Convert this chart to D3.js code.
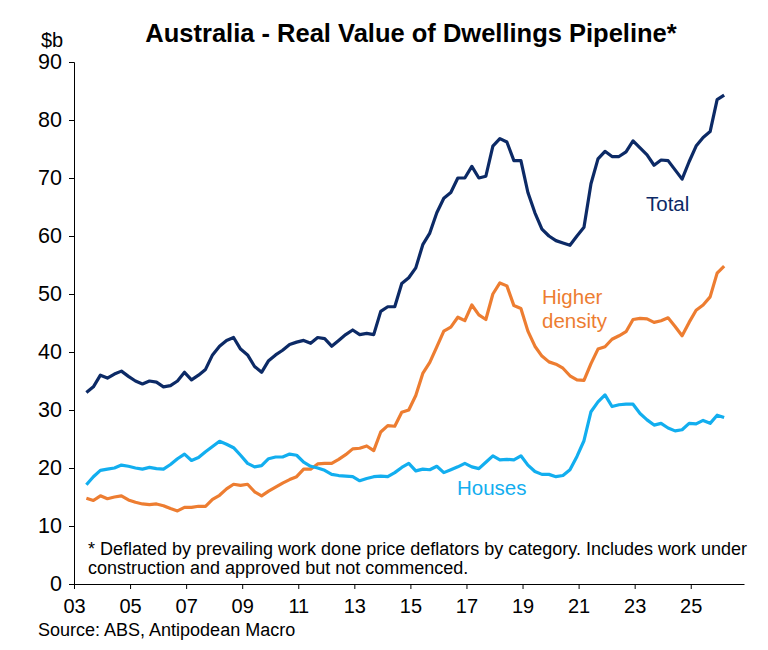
<!DOCTYPE html>
<html>
<head>
<meta charset="utf-8">
<script src="https://cdn.jsdelivr.net/npm/d3@7"></script>
<style>
  body { margin: 0; background: #fff; }
  svg { display: block; }
  text { font-family: "Liberation Sans", Arial, sans-serif; }
</style>
</head>
<body>
<svg id="chart" width="768" height="650"></svg>
<script>
// ---- DATA ----
// Quarterly, first point June quarter 2003
const startYear = 2003, startMonth = 6;
const total = [33.0,34.0,36.0,35.5,36.2,36.7,35.8,35.0,34.5,35.0,34.8,34.0,34.2,35.0,36.5,35.2,36.0,37.0,39.5,41.0,42.0,42.5,40.5,39.5,37.5,36.5,38.5,39.5,40.3,41.3,41.7,42.0,41.5,42.5,42.3,41.0,42.0,43.0,43.8,43.0,43.2,43.0,47.0,47.8,47.8,51.8,52.8,54.5,58.5,60.5,64.0,66.5,67.5,70.0,70.0,72.0,70.0,70.3,75.5,76.8,76.2,73.0,73.0,67.5,64.0,61.2,60.0,59.2,58.8,58.4,60.0,61.5,69.0,73.3,74.6,73.7,73.7,74.5,76.4,75.2,74.0,72.2,73.1,73.0,71.4,69.8,72.8,75.5,77.0,78.0,83.5,84.3];
const higherDensity = [14.8,14.4,15.2,14.7,15.0,15.2,14.5,14.1,13.8,13.7,13.8,13.5,13.0,12.6,13.2,13.2,13.4,13.4,14.6,15.3,16.4,17.2,17.0,17.2,15.9,15.2,16.0,16.7,17.4,18.0,18.5,19.8,19.8,20.7,20.8,20.8,21.5,22.3,23.3,23.4,23.8,23.0,26.2,27.3,27.2,29.6,30.0,32.5,36.3,38.2,40.9,43.6,44.3,46.0,45.4,48.1,46.4,45.6,50.0,51.9,51.4,48.0,47.5,43.6,41.0,39.3,38.3,37.9,37.2,35.9,35.2,35.1,38.0,40.5,40.9,42.2,42.8,43.5,45.6,45.8,45.7,45.1,45.4,45.9,44.4,42.8,45.1,47.2,48.1,49.5,53.6,54.8];
const houses = [17.1,18.5,19.6,19.8,20.0,20.5,20.3,20.0,19.8,20.1,19.9,19.8,20.6,21.6,22.4,21.3,21.8,22.8,23.7,24.6,24.1,23.5,22.2,20.8,20.2,20.4,21.6,21.9,21.9,22.4,22.2,21.0,20.3,20.0,19.6,18.9,18.7,18.6,18.5,17.8,18.2,18.5,18.6,18.5,19.2,20.1,20.8,19.5,19.8,19.7,20.3,19.2,19.7,20.2,20.8,20.2,19.9,21.0,22.1,21.4,21.5,21.4,22.1,20.5,19.4,18.9,18.9,18.5,18.7,19.7,22.0,24.7,29.7,31.4,32.6,30.6,30.9,31.0,31.0,29.4,28.3,27.4,27.7,26.9,26.4,26.6,27.7,27.6,28.2,27.7,29.1,28.7];
const xTickYears = [2003,2005,2007,2009,2011,2013,2015,2017,2019,2021,2023,2025];
const xTickLabels = ["03","05","07","09","11","13","15","17","19","21","23","25"];
const yTicks = [0,10,20,30,40,50,60,70,80,90];

const seriesNames = ["Total","Higher density","Houses"];
const seriesColors = ["#0C2A66","#ED7D31","#12AEEF"];

// quarter dates as decimal years
const dates = total.map((_, i) => {
  const m = startMonth - 1 + 3 * i;
  return startYear + Math.floor(m / 12) + ((m % 12) + 0.3) / 12;
});

// ---- CHART ----
const svg = d3.select("#chart");
const x = d3.scaleLinear().domain([2003, 2026.9]).range([74, 744]);
const y = d3.scaleLinear().domain([0, 90]).range([584, 62]);

// title
svg.append("text").attr("x", 411).attr("y", 42).attr("text-anchor", "middle")
  .attr("font-size", 25.5).attr("font-weight", "bold").attr("fill", "#000")
  .text("Australia - Real Value of Dwellings Pipeline*");
svg.append("text").attr("x", 41).attr("y", 47).attr("font-size", 20).attr("fill", "#000").text("$b");

// y axis
const yAxis = svg.append("g").attr("transform", "translate(74,0)")
  .call(d3.axisLeft(y).tickValues(yTicks).tickSize(5).tickPadding(7));
yAxis.selectAll("text").attr("font-size", 21.5).attr("fill", "#000").style("font-family", "Liberation Sans, Arial, sans-serif");
yAxis.selectAll("line,path").attr("stroke", "#000");

// x axis
const xAxis = svg.append("g").attr("transform", "translate(0,584)")
  .call(d3.axisBottom(x).tickValues(xTickYears).tickFormat((d, i) => xTickLabels[i]).tickSize(5).tickPadding(10).tickSizeOuter(0));
xAxis.selectAll("text").attr("font-size", 20).attr("fill", "#000").style("font-family", "Liberation Sans, Arial, sans-serif");
xAxis.selectAll("line,path").attr("stroke", "#000");

// lines
const line = d3.line().x((d, i) => x(dates[i])).y(d => y(d)).curve(d3.curveLinear);
[total, higherDensity, houses].forEach((s, k) => {
  svg.append("path").datum(s).attr("d", line).attr("fill", "none")
    .attr("stroke", seriesColors[k]).attr("stroke-width", 3.2)
    .attr("stroke-linejoin", "round").attr("stroke-linecap", "butt");
});

// series labels
svg.append("text").attr("x", 646).attr("y", 211).attr("font-size", 20.5).attr("fill", seriesColors[0]).text(seriesNames[0]);
svg.append("text").attr("x", 542).attr("y", 304).attr("font-size", 20.5).attr("fill", seriesColors[1]).text("Higher");
svg.append("text").attr("x", 542).attr("y", 328).attr("font-size", 20.5).attr("fill", seriesColors[1]).text("density");
svg.append("text").attr("x", 457).attr("y", 495).attr("font-size", 20.5).attr("fill", seriesColors[2]).text(seriesNames[2]);

// footnote
svg.append("text").attr("x", 88).attr("y", 555).attr("font-size", 18).attr("fill", "#000")
  .text("* Deflated by prevailing work done price deflators by category. Includes work under");
svg.append("text").attr("x", 88).attr("y", 574).attr("font-size", 18).attr("fill", "#000")
  .text("construction and approved but not commenced.");

// source
svg.append("text").attr("x", 38).attr("y", 636).attr("font-size", 18).attr("fill", "#000")
  .text("Source: ABS, Antipodean Macro");
</script>
</body>
</html>
